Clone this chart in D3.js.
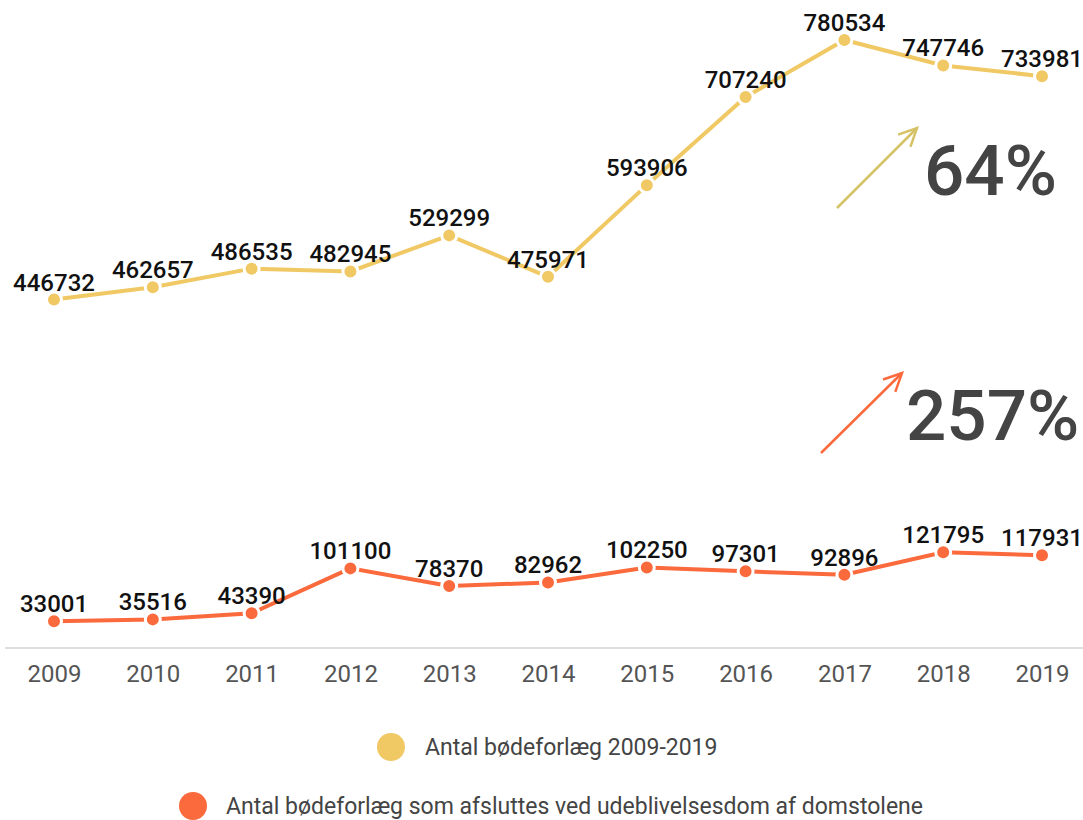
<!DOCTYPE html>
<html><head><meta charset="utf-8">
<script src="https://cdn.jsdelivr.net/npm/d3@7"></script>
<style>
html,body{margin:0;padding:0;background:#fff;}
svg{display:block;font-family:Roboto,"Noto Sans",sans-serif;}
</style></head><body>
<svg id="c" width="1083" height="820"></svg>
<script>
const years = ["2009","2010","2011","2012","2013","2014","2015","2016","2017","2018","2019"];
const totalFines = [446732,462657,486535,482945,529299,475971,593906,707240,780534,747746,733981];
const absentJudgments = [33001,35516,43390,101100,78370,82962,102250,97301,92896,121795,117931];
const seriesNames = ["Antal bødeforlæg 2009-2019","Antal bødeforlæg som afsluttes ved udeblivelsesdom af domstolene"];
const changeLabels = ["64%","257%"];

const svg = d3.select("#c");
const x = d3.scalePoint().domain(years).range([54,1042]);
const y = d3.scaleLinear().domain([0,780534]).range([647,40]);

const colors = ["#f0c965","#fa6a3c"];
const arrowColors = ["#d6c266","#fa6a3c"];

// axis
svg.append("line").attr("x1",5).attr("x2",1083).attr("y1",648).attr("y2",648).attr("stroke","#dedede").attr("stroke-width",2);
const axis = d3.axisBottom(x).tickSize(0).tickPadding(0);
const ag = svg.append("g").attr("transform","translate(0,682)").call(axis);
ag.select(".domain").remove();
ag.selectAll("text").attr("font-size",24).attr("fill","#555").attr("font-family","Roboto").attr("y",0).attr("dy",0);

const series = [totalFines, absentJudgments];
const line = d3.line().x((d,i)=>x(years[i])).y(d=>y(d));
series.forEach((s,k)=>{
  const g = svg.append("g");
  g.append("path").attr("d",line(s)).attr("fill","none").attr("stroke",colors[k]).attr("stroke-width",4);
  g.selectAll("circle").data(s).join("circle")
    .attr("cx",(d,i)=>x(years[i])).attr("cy",d=>y(d)).attr("r",7.5)
    .attr("fill",colors[k]).attr("stroke","#fff").attr("stroke-width",3);
  g.selectAll("text").data(s).join("text")
    .attr("x",(d,i)=>x(years[i])).attr("y",d=>y(d)-9)
    .attr("text-anchor","middle").attr("font-size",24).attr("font-weight",500)
    .attr("fill","#111").text(d=>d);
});

// arrows
const arrows = [
  {x1:837,y1:208,x2:917,y2:128},
  {x1:821,y1:453,x2:902,y2:373}
];
arrows.forEach((a,k)=>{
  const ang = Math.atan2(a.y2-a.y1,a.x2-a.x1);
  svg.append("line").attr("x1",a.x1).attr("y1",a.y1).attr("x2",a.x2).attr("y2",a.y2)
    .attr("stroke",arrowColors[k]).attr("stroke-width",2.5);
  const L=20, w=0.45;
  const p1=[a.x2-L*Math.cos(ang-w), a.y2-L*Math.sin(ang-w)];
  const p2=[a.x2-L*Math.cos(ang+w), a.y2-L*Math.sin(ang+w)];
  svg.append("path").attr("d",`M${p1}L${a.x2},${a.y2}L${p2}`).attr("fill","none")
    .attr("stroke",arrowColors[k]).attr("stroke-width",2.5);
});
svg.append("text").attr("x",924).attr("y",195).attr("font-size",71).attr("font-weight",500).attr("fill","#444").text(changeLabels[0]);
svg.append("text").attr("x",906).attr("y",440).attr("font-size",71).attr("font-weight",500).attr("fill","#444").text(changeLabels[1]);

// legend
const legend = [{cx:391,cy:747,tx:425},{cx:193,cy:806,tx:226}];
legend.forEach((l,k)=>{
  svg.append("circle").attr("cx",l.cx).attr("cy",l.cy).attr("r",14).attr("fill",colors[k]);
  svg.append("text").attr("x",l.tx).attr("y",l.cy).attr("dy","0.35em").attr("font-size",23).attr("fill","#444").text(seriesNames[k]);
});
</script>
</body></html>
